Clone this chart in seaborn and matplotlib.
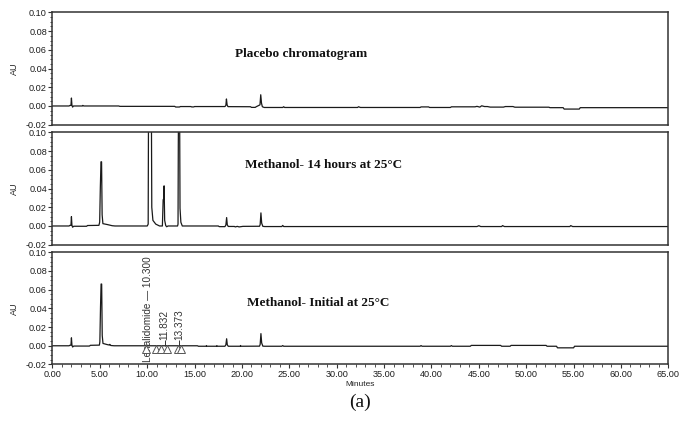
import matplotlib
matplotlib.use("Agg")
import matplotlib.pyplot as plt
from matplotlib.ticker import MultipleLocator, FormatStrFormatter
import seaborn as sns
import pandas as pd

# ---- chromatogram traces: (minutes, AU) vertices ----
PLACEBO = [
    (0.0, 0.0), (1.75, 0.0), (1.85, 0.0006), (1.95, 0.0006), (2.0, 0.0085), (2.05, 0.001),
    (2.12, -0.0012), (2.22, 0.0), (3.15, 0.0), (3.2, 0.0006), (3.3, 0.0),
    (7.0, 0.0), (7.1, -0.0004), (12.9, -0.0004), (13.0, -0.0011), (13.4, -0.0011),
    (13.5, -0.0006), (14.6, -0.0006), (14.7, -0.0010), (14.9, -0.0010), (15.0, -0.0006),
    (18.2, -0.0006), (18.3, 0.0006), (18.36, 0.0075), (18.43, 0.0012), (18.52, -0.0007),
    (20.9, -0.0008), (21.0, -0.0015), (21.4, -0.0015), (21.5, -0.0008), (21.9, 0.0012),
    (21.98, 0.0120), (22.06, 0.0030), (22.15, -0.0008), (22.35, -0.0016),
    (24.3, -0.0016), (24.4, -0.0008), (24.5, -0.0016), (32.2, -0.0016), (32.3, -0.0008),
    (32.5, -0.0016), (38.8, -0.0016), (38.9, -0.0010), (39.7, -0.0010), (39.8, -0.0016),
    (42.0, -0.0016), (42.1, -0.0009), (44.6, -0.0009), (44.8, -0.0004), (45.1, -0.0012),
    (45.3, 0.0002), (45.6, -0.0006), (45.9, -0.0006), (46.2, -0.0012), (47.6, -0.0012),
    (47.8, -0.0006), (48.6, -0.0006), (48.8, -0.0013), (52.4, -0.0013), (52.5, -0.0018),
    (53.9, -0.0018), (54.0, -0.0033), (55.6, -0.0033), (55.7, -0.0018), (65.0, -0.0018),
]

METHANOL_14H = [
    (0.0, 0.0), (1.75, 0.0), (1.85, 0.0007), (1.95, 0.0007), (2.0, 0.0100), (2.05, 0.001),
    (2.12, -0.0013), (2.25, -0.0003), (3.6, -0.0003), (3.7, 0.0005), (4.9, 0.0007),
    (4.98, 0.0041), (5.05, 0.0410), (5.12, 0.0686), (5.18, 0.0686), (5.24, 0.0120),
    (5.32, 0.0025), (5.8, 0.0015), (6.3, 0.0003), (6.6, 0.0),
    (10.0, 0.0), (10.1, 0.002), (10.15, 0.18), (10.3, 0.35), (10.43, 0.15), (10.48, 0.02),
    (10.6, 0.006), (10.9, 0.002), (11.3, 0.0), (11.6, 0.0), (11.68, 0.0280), (11.73, 0.0290),
    (11.78, 0.0429), (11.84, 0.0060), (11.95, 0.0005), (12.05, -0.0008), (12.2, 0.0),
    (13.2, 0.0), (13.25, 0.0020), (13.28, 0.0870), (13.35, 0.22), (13.42, 0.12),
    (13.46, 0.0190), (13.55, 0.0040), (13.7, 0.0),
    (17.5, 0.0), (17.6, -0.0007), (18.2, -0.0007), (18.3, 0.0010), (18.38, 0.0090),
    (18.45, 0.0012), (18.55, -0.0005), (19.2, -0.0005), (19.3, -0.0010), (19.5, -0.0004),
    (19.7, -0.0010), (20.1, -0.0004), (21.85, -0.0003), (21.92, 0.0015), (22.0, 0.0140),
    (22.08, 0.0030), (22.2, -0.0004), (22.4, -0.0006), (24.2, -0.0006), (24.3, 0.0006),
    (24.4, -0.0006), (44.8, -0.0006), (45.0, 0.0003), (45.2, -0.0006), (47.4, -0.0006),
    (47.5, 0.0004), (47.7, -0.0006), (54.6, -0.0006), (54.7, 0.0004), (54.9, -0.0006),
    (65.0, -0.0006),
]

METHANOL_INITIAL = [
    (0.0, 0.0), (1.75, 0.0), (1.85, 0.0006), (1.95, 0.0006), (2.0, 0.0085), (2.05, 0.001),
    (2.12, -0.0013), (2.25, -0.0003), (3.9, -0.0003), (4.0, 0.0005), (4.95, 0.0007),
    (5.0, 0.0042), (5.07, 0.0420), (5.13, 0.0660), (5.19, 0.0660), (5.25, 0.0110),
    (5.33, 0.0025), (5.8, 0.0012), (6.0, 0.0008), (6.05, 0.0015), (6.15, 0.0003), (6.5, 0.0),
    (15.3, 0.0), (15.4, -0.0005), (16.2, -0.0005), (16.25, 0.0002), (16.3, -0.0005),
    (17.3, -0.0005), (17.35, 0.0002), (17.4, -0.0005), (18.2, -0.0005), (18.3, 0.0010),
    (18.38, 0.0075), (18.45, 0.0010), (18.55, -0.0005), (19.8, -0.0005), (19.85, 0.0003),
    (19.9, -0.0005), (21.85, -0.0004), (21.92, 0.0015), (22.0, 0.0130), (22.08, 0.0030),
    (22.2, -0.0004), (22.4, -0.0005), (24.2, -0.0005), (24.3, 0.0002), (24.4, -0.0005),
    (38.8, -0.0005), (38.9, 0.0002), (39.0, -0.0005), (42.0, -0.0005), (42.1, 0.0002),
    (42.2, -0.0005), (44.1, -0.0005), (44.2, 0.0004), (47.3, 0.0004), (47.4, -0.0005),
    (48.3, -0.0005), (48.4, 0.0004), (52.1, 0.0004), (52.2, -0.0005), (53.2, -0.0005),
    (53.3, -0.0022), (55.0, -0.0022), (55.1, -0.0005), (65.0, -0.0005),
]

PANEL_TITLES = ["Placebo chromatogram", "Methanol- 14 hours at 25°C", "Methanol- Initial at 25°C"]

# integrated peaks of the initial-sample run
PEAK_NAMES = ["Lenalidomide \u2014 10.300", "11.832", "13.373"]
PEAK_RT = [10.300, 11.832, 13.373]
PEAK_BOUNDS = [9.90, 10.95, 11.45, 12.05, 13.20, 13.55]

X_TICKS = [0, 5, 10, 15, 20, 25, 30, 35, 40, 45, 50, 55, 60, 65]
Y_TICKS = [-0.02, 0.0, 0.02, 0.04, 0.06, 0.08, 0.10]

sns.set_theme(style="ticks")
plt.rcParams["font.family"] = ["Liberation Sans", "DejaVu Sans"]
plt.rcParams["axes.edgecolor"] = "#333333"
plt.rcParams["axes.linewidth"] = 1.1
plt.rcParams["xtick.color"] = "#333333"
plt.rcParams["ytick.color"] = "#333333"
plt.rcParams["xtick.labelcolor"] = "#1e1e1e"
plt.rcParams["ytick.labelcolor"] = "#1e1e1e"

fig = plt.figure(figsize=(6.79, 4.26), dpi=100)
left, width, height = 0.0773, 0.907, 0.2635
bottoms = [0.7073, 0.4256, 0.1444]
traces = [PLACEBO, METHANOL_14H, METHANOL_INITIAL]
title_pos = [(26.2, 0.056), (28.6, 0.065), (28.0, 0.046)]

axes = []
for i, (b, trace) in enumerate(zip(bottoms, traces)):
    ax = fig.add_axes([left, b, width, height])
    df = pd.DataFrame(trace, columns=["Minutes", "AU"])
    sns.lineplot(data=df, x="Minutes", y="AU", ax=ax, color="#1a1a1a",
                 linewidth=0.9, estimator=None, sort=False)
    ax.set_xlim(X_TICKS[0], X_TICKS[-1])
    ax.set_ylim(Y_TICKS[0], Y_TICKS[-1])
    ax.set_yticks(Y_TICKS)
    ax.yaxis.set_major_formatter(FormatStrFormatter("%.2f"))
    ax.yaxis.set_minor_locator(MultipleLocator(0.005))
    ax.tick_params(axis="y", which="major", direction="out", length=3, width=0.8,
                   pad=1, labelsize=6.6)
    ax.tick_params(axis="y", which="minor", direction="out", length=1.8, width=0.6)
    ax.set_ylabel("AU", fontsize=6.5)
    ax.yaxis.set_label_coords(-0.055, 0.5)
    for s in ax.spines.values():
        s.set_visible(True)
    tx, ty = title_pos[i]
    ax.text(tx, ty, PANEL_TITLES[i], ha="center", va="center", fontsize=9.5,
            fontweight="bold", family=["Liberation Serif", "DejaVu Serif"], color="#111111")
    if i < 2:
        ax.set_xticks([])
        ax.set_xlabel("")
    else:
        ax.set_xticks(X_TICKS)
        ax.xaxis.set_major_formatter(FormatStrFormatter("%.2f"))
        ax.xaxis.set_minor_locator(MultipleLocator(1))
        ax.tick_params(axis="x", which="major", direction="out", length=3, width=0.8,
                       pad=1, labelsize=6.6)
        ax.tick_params(axis="x", which="minor", direction="out", length=1.8, width=0.6)
        ax.set_xlabel("Minutes", fontsize=6, labelpad=1.5)
    axes.append(ax)

# peak start/end markers and retention-time labels on the initial run
ax3 = axes[2]
ax3.plot(PEAK_BOUNDS, [-0.0035] * len(PEAK_BOUNDS), linestyle="none", marker="^",
         markersize=5.5, markerfacecolor="white", markeredgecolor="#555555",
         markeredgewidth=0.7, zorder=4)
ax3.vlines(PEAK_RT[1:], 0.0, 0.006, color="#333333", linewidth=0.7)
label_base = [-0.0175, 0.0065, 0.0065]
for name, rt, yb in zip(PEAK_NAMES, PEAK_RT, label_base):
    ax3.text(rt - (0.25 if rt == PEAK_RT[0] else 0.0), yb, name, rotation=90,
             ha="center", va="bottom", fontsize=7.2, color="#333333", clip_on=True)

fig.text(360 / 679, 1 - 402 / 426, "(a)", ha="center", va="center", fontsize=14,
         family=["Liberation Serif", "DejaVu Serif"], color="#111111")

fig.savefig("out.png", dpi=100)
